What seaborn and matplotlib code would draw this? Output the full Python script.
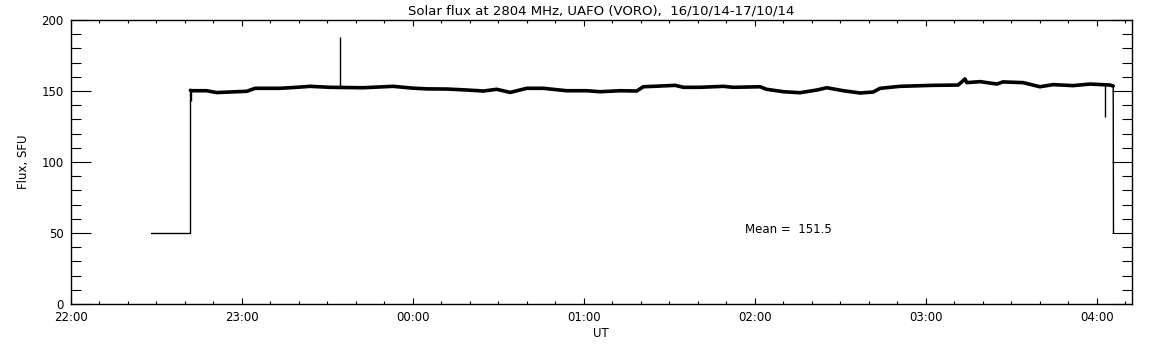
import numpy as np
import matplotlib
matplotlib.use("Agg")
import matplotlib.pyplot as plt
import pandas as pd
import seaborn as sns

# minutes after 22:00 UT and flux in SFU
plateau_min = [42.0, 42.2, 47.7, 51.2, 55.9, 61.8, 64.7, 73.4, 79.3, 84.0, 91.0,
               102.6, 113.1, 120.1, 125.0, 131.9, 139.0, 144.8, 149.5, 154.2,
               160.0, 165.8, 174.0, 181.1, 185.7, 192.8, 198.6, 200.9, 206.8,
               212.1, 215.0, 220.8, 229.0, 232.5, 241.9, 244.2, 250.1, 255.9,
               261.8, 265.3, 271.1, 277.0, 281.6, 284.0, 291.0, 302.6, 311.4,
               313.8, 314.4, 319.1, 325.0, 327.1, 334.2, 340.1, 344.7, 351.7,
               357.7, 364.7, 365.8]
plateau_flux = [150.5, 150.2, 150.2, 148.9, 149.3, 149.8, 151.9, 151.9, 152.6,
                153.3, 152.6, 152.3, 153.3, 152.0, 151.5, 151.4, 150.7, 150.0,
                151.2, 149.0, 151.9, 151.9, 150.2, 150.2, 149.5, 150.2, 150.0,
                153.0, 153.5, 154.0, 152.6, 152.6, 153.3, 152.6, 153.0, 151.2,
                149.5, 148.8, 150.7, 152.3, 150.2, 148.6, 149.3, 151.9, 153.3,
                154.0, 154.2, 158.5, 155.9, 156.6, 154.9, 156.4, 155.9, 153.0,
                154.5, 153.8, 154.9, 154.2, 153.5]

pre_min = [28.2, 42.0, 42.0]
pre_flux = [50, 50, 150.5]
post_min = [365.8, 365.9]
post_flux = [153.5, 50]

spike_min = [42.3, 94.5, 363.0]
spike_base = [150.5, 152.8, 154.5]
spike_top = [143, 188, 132]

xtick_min = [0, 60, 120, 180, 240, 300, 360]
xtick_labels = ["22:00", "23:00", "00:00", "01:00", "02:00", "03:00", "04:00"]
mean_flux = 151.5

sns.set_style("white")
plt.rcParams["font.family"] = ["DejaVu Sans"]
plt.rcParams.update({"text.color": "black", "axes.labelcolor": "black",
                     "xtick.color": "black", "ytick.color": "black"})

fig = plt.figure(figsize=(11.52, 3.45), dpi=100)
ax = fig.add_axes([0.0614, 0.1188, 0.9210, 0.8232])

pre = pd.DataFrame({"t": pre_min, "flux": pre_flux})
post = pd.DataFrame({"t": post_min, "flux": post_flux})
plateau = pd.DataFrame({"t": plateau_min, "flux": plateau_flux})

for seg in [pre, post]:
    sns.lineplot(data=seg, x="t", y="flux", ax=ax, color="black", lw=1,
                 sort=False, estimator=None)
sns.lineplot(data=plateau, x="t", y="flux", ax=ax, color="black", lw=2.6,
             sort=False, estimator=None)
ax.vlines(spike_min, spike_base, spike_top, color="black", lw=1)

ax.set_xlim(0, 372.3)
ax.set_ylim(0, 200)
ax.set_xticks(xtick_min)
ax.set_xticklabels(xtick_labels)
ax.set_xticks(np.arange(0, 372, 10), minor=True)
ax.set_yticks([0, 50, 100, 150, 200])
ax.set_yticks(np.arange(0, 201, 10), minor=True)

ax.tick_params(axis="both", which="both", direction="in", top=True, right=True,
               bottom=True, left=True, color="black", width=0.8,
               labelsize=8.5, pad=5)
ax.tick_params(axis="y", which="major", length=14.4)
ax.tick_params(axis="y", which="minor", length=7.2)
ax.tick_params(axis="x", which="major", length=4)
ax.tick_params(axis="x", which="minor", length=2)
for side in ax.spines.values():
    side.set_color("black")
    side.set_linewidth(1)

ax.set_xlabel("UT", fontsize=8.5, labelpad=2)
ax.set_ylabel("Flux, SFU", fontsize=8.5, labelpad=8)
ax.set_title("Solar flux at 2804 MHz, UAFO (VORO),  16/10/14-17/10/14",
             fontsize=9.5, pad=4)
ax.text(236.6, 52.8, f"Mean =  {mean_flux}", fontsize=8.5, va="center", ha="left")

fig.savefig("out.png", dpi=100, facecolor="white")
plt.close(fig)
